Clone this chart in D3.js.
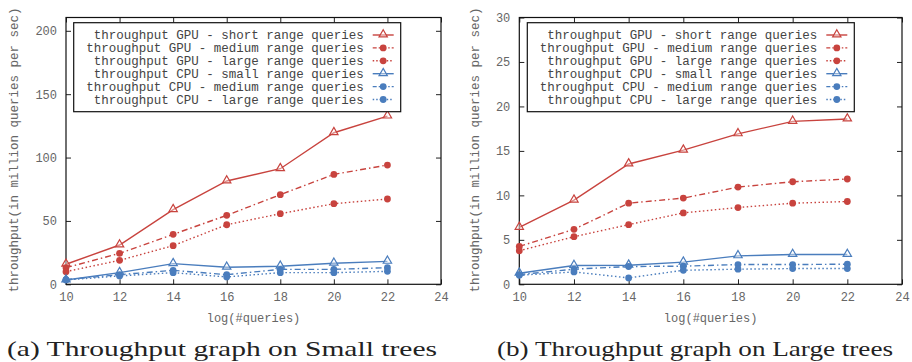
<!DOCTYPE html>
<html lang="en">
<head>
    <meta charset="UTF-8">
    <script src="https://d3js.org/d3.v7.min.js"></script>
    <title>throughput</title>
    <style>
      body { margin: 0; background: #fff; }
      text { font-family: "Liberation Mono", monospace; }
    </style>
</head>
<body>
    <div id="chart"></div>

    <script>
      // x values: log(#queries)
      var logQueries = [10, 12, 14, 16, 18, 20, 22];
      var xTicks = [10, 12, 14, 16, 18, 20, 22, 24];
      var yTicksSmall = [0, 50, 100, 150, 200];
      var yTicksLarge = [0, 5, 10, 15, 20, 25, 30];

      var seriesLabels = [
        "throughput GPU - short range queries",
        "throughput GPU - medium range queries",
        "throughput GPU - large range queries",
        "throughput CPU - small range queries",
        "throughput CPU - medium range queries",
        "throughput CPU - large range queries"
      ];

      // (a) small trees
      var smallGpuShort  = [15.8, 31, 58.9, 81.5, 91.2, 119.6, 132.7];
      var smallGpuMedium = [13.1, 24.4, 39.4, 54.4, 70.7, 86.7, 94.1];
      var smallGpuLarge  = [10, 18.9, 30.5, 47, 55.7, 63.6, 67.3];
      var smallCpuSmall  = [3.4, 9.2, 16.3, 13.4, 14.2, 16.6, 18.1];
      var smallCpuMedium = [3.7, 7.6, 11, 7.6, 11.8, 11.8, 13.1];
      var smallCpuLarge  = [3.4, 6.6, 9.2, 5.8, 9.2, 9.2, 10.2];

      // (b) large trees
      var largeGpuShort  = [6.4, 9.46, 13.53, 15.08, 16.92, 18.32, 18.58];
      var largeGpuMedium = [4.26, 6.18, 9.12, 9.69, 10.93, 11.53, 11.84];
      var largeGpuLarge  = [3.77, 5.35, 6.71, 8.03, 8.63, 9.12, 9.31];
      var largeCpuSmall  = [1.24, 2.11, 2.15, 2.49, 3.2, 3.35, 3.35];
      var largeCpuMedium = [1.09, 1.7, 2.0, 2.04, 2.22, 2.22, 2.26];
      var largeCpuLarge  = [1.02, 1.39, 0.72, 1.58, 1.7, 1.77, 1.77];

      var red = "#c8433e", blue = "#4a7dbd";
      // style per series: colour, dash, marker
      var styles = [
        {c: red,  dash: null,          mark: "tri"},
        {c: red,  dash: "6,3,1.5,3",   mark: "dot"},
        {c: red,  dash: "1.5,2.5",     mark: "dot"},
        {c: blue, dash: null,          mark: "tri"},
        {c: blue, dash: "6,3,1.5,3",   mark: "dot"},
        {c: blue, dash: "1.5,2.5",     mark: "dot"}
      ];

      var svg = d3.select("#chart").append("svg")
          .attr("width", 912).attr("height", 362);

      function marker(g, type, x, y, c){
        if (type == "tri") {
          g.append("path")
            .attr("d", d3.symbol().type(d3.symbolTriangle).size(30)())
            .attr("transform", "translate(" + x + "," + (y - 0.5) + ")")
            .attr("fill", "#fff").attr("fill-opacity", 0.4)
            .attr("stroke", c).attr("stroke-width", 1.2);
        } else {
          g.append("circle").attr("cx", x).attr("cy", y).attr("r", 3.4)
            .attr("fill", c);
        }
      }

      function panel(p){
        var g = svg.append("g");
        var x = d3.scaleLinear().domain([10, 24]).range([p.left, p.right]);
        var y = d3.scaleLinear().domain([0, p.ymax]).range([284.3, 17.5]);

        // ticks on all four sides, pointing inward
        g.append("g").attr("transform", "translate(0,284.3)")
          .call(d3.axisBottom(x).tickValues(xTicks).tickSizeInner(-5).tickSizeOuter(0).tickPadding(8));
        g.append("g").attr("transform", "translate(0,17.5)")
          .call(d3.axisTop(x).tickValues(xTicks).tickSizeInner(-5).tickSizeOuter(0).tickFormat(""));
        g.append("g").attr("transform", "translate(" + p.left + ",0)")
          .call(d3.axisLeft(y).tickValues(p.yTicks).tickSizeInner(-5).tickSizeOuter(0).tickPadding(9));
        g.append("g").attr("transform", "translate(" + p.right + ",0)")
          .call(d3.axisRight(y).tickValues(p.yTicks).tickSizeInner(-5).tickSizeOuter(0).tickFormat(""));
        g.selectAll(".domain").remove();
        g.selectAll(".tick line").attr("stroke", "#222");
        g.selectAll(".tick text").attr("fill", "#666").style("font-size", "12px");

        g.append("rect").attr("x", p.left).attr("y", 17.5)
          .attr("width", p.right - p.left).attr("height", 284.3 - 17.5)
          .attr("fill", "none").attr("stroke", "#111").attr("stroke-width", 1.2);

        // series
        p.series.forEach(function(vals, i){
          var s = styles[i];
          var pts = vals.map(function(v, j){ return [x(logQueries[j]), y(v)]; });
          g.append("path").attr("d", d3.line()(pts))
            .attr("fill", "none").attr("stroke", s.c).attr("stroke-width", 1.4)
            .attr("stroke-dasharray", s.dash);
          pts.forEach(function(pt){ marker(g, s.mark, pt[0], pt[1], s.c); });
        });

        // legend
        var lx = p.legendX, lw = 327;
        g.append("rect").attr("x", lx).attr("y", 22.7).attr("width", lw).attr("height", 89)
          .attr("fill", "#fff").attr("stroke", "#111").attr("stroke-width", 1.2);
        seriesLabels.forEach(function(lab, i){
          var ry = 35 + i * 12.9;
          var s = styles[i];
          g.append("text").attr("x", lx + 290).attr("y", ry + 4)
            .attr("text-anchor", "end").attr("fill", "#444")
            .style("font-size", "12.5px").text(lab);
          g.append("line").attr("x1", lx + 299).attr("x2", lx + 320)
            .attr("y1", ry).attr("y2", ry)
            .attr("stroke", s.c).attr("stroke-width", 1.4)
            .attr("stroke-dasharray", s.dash ? (s.dash.length > 8 ? "4,2,1.5,2" : "1.5,2") : null);
          marker(g, s.mark, lx + 309.5, ry, s.c);
        });

        // axis titles
        g.append("text")
          .attr("transform", "translate(" + p.ytitleX + ",150) rotate(-90)")
          .attr("text-anchor", "middle").attr("fill", "#666")
          .style("font-size", "12.5px")
          .text("throughput(in million queries per sec)");
        g.append("text").attr("x", (p.left + p.right) / 2).attr("y", 322)
          .attr("text-anchor", "middle").attr("fill", "#666")
          .style("font-size", "12px").text("log(#queries)");

        // caption
        g.append("text").attr("x", p.capX).attr("y", 356)
          .attr("textLength", p.capW).attr("lengthAdjust", "spacingAndGlyphs")
          .style("font-family", "'Liberation Serif', serif").style("font-size", "22px")
          .attr("fill", "#222").text(p.caption);
      }

      panel({
        left: 66, right: 441, ymax: 210.5, yTicks: yTicksSmall,
        series: [smallGpuShort, smallGpuMedium, smallGpuLarge, smallCpuSmall, smallCpuMedium, smallCpuLarge],
        legendX: 73.7, ytitleX: 18, capX: 7, capW: 430,
        caption: "(a) Throughput graph on Small trees"
      });
      panel({
        left: 519.3, right: 902, ymax: 30, yTicks: yTicksLarge,
        series: [largeGpuShort, largeGpuMedium, largeGpuLarge, largeCpuSmall, largeCpuMedium, largeCpuLarge],
        legendX: 527.3, ytitleX: 479, capX: 497, capW: 396,
        caption: "(b) Throughput graph on Large trees"
      });
    </script>
</body>
</html>
